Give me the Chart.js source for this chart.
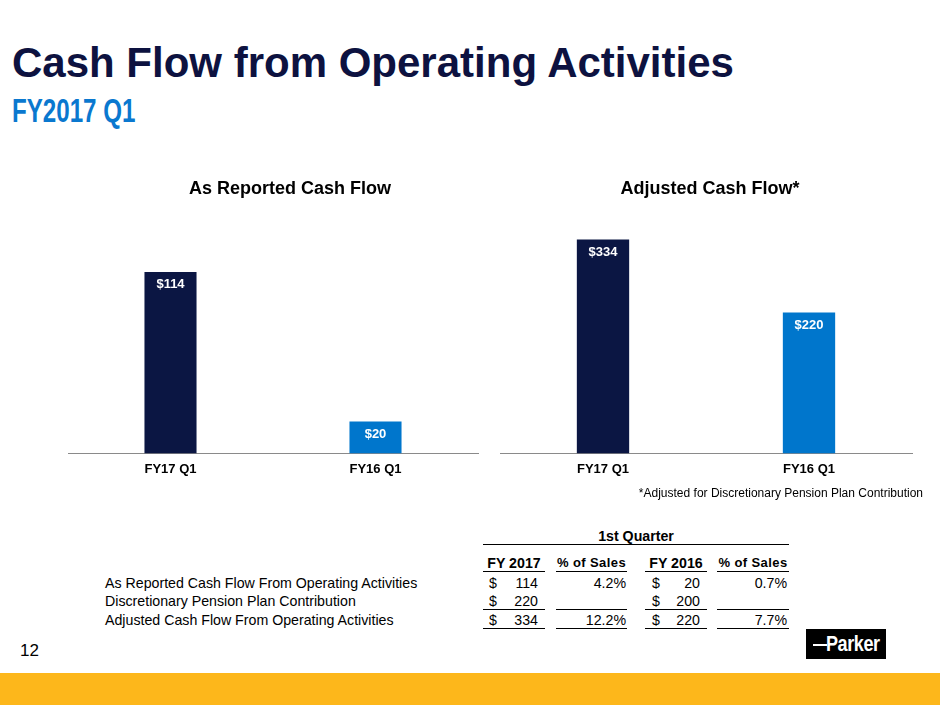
<!DOCTYPE html>
<html>
<head>
<meta charset="utf-8">
<script src="https://cdn.jsdelivr.net/npm/chart.js@4"></script>
<style>
  html, body { margin: 0; padding: 0; background: #fff; }
  body { width: 940px; height: 705px; position: relative; overflow: hidden;
         font-family: "Liberation Sans", Arial, Helvetica, sans-serif; color: #000; }
  .abs { position: absolute; white-space: nowrap; }
  #title { left: 12px; top: 42px; font-size: 42px; line-height: 42px; font-weight: bold; color: #0d1240; }
  #subtitle { left: 12px; top: 93px; font-size: 34px; line-height: 34px; font-weight: bold; color: #0a78cf;
              transform: scaleX(0.71); transform-origin: left top; }
  canvas { position: absolute; }
  #note { right: 17px; top: 485px; font-size: 12px; line-height: 16px; }
  .rule { position: absolute; height: 1px; background: #000; }
  #page { left: 20px; top: 641px; font-size: 17px; line-height: 20px; }
  #logo { position: absolute; left: 806px; top: 629px; width: 80px; height: 30px; background: #000; }
  #logo .dash { position: absolute; left: 7px; top: 15px; width: 14px; height: 2px; background: #fff; }
  #logo .word { position: absolute; left: 20px; top: 3px; font-size: 22px; line-height: 24px; font-weight: bold;
                color: #fff; transform: scaleX(0.82); transform-origin: left top; letter-spacing: -0.5px; }
  #band { position: absolute; left: 0; top: 673px; width: 940px; height: 32px; background: #fdb71b; }
</style>
</head>
<body>
<div id="title" class="abs">Cash Flow from Operating Activities</div>
<div id="subtitle" class="abs">FY2017 Q1</div>

<canvas id="reported" width="444" height="315" style="left:68px;top:170px"></canvas>
<canvas id="adjusted" width="420" height="315" style="left:500px;top:170px"></canvas>

<div id="note" class="abs">*Adjusted for Discretionary Pension Plan Contribution</div>
<div id="table"></div>

<div id="page" class="abs">12</div>
<div id="logo"><div class="dash"></div><div class="word">Parker</div></div>
<div id="band"></div>

<script>
// chart data
const categories = ['FY17 Q1', 'FY16 Q1'];
const reportedCash = [114, 20];
const adjustedCash = [334, 220];
const barColors = ['#0b1643', '#0076cc'];

// table data
const rowLabels = [
  'As Reported Cash Flow From Operating Activities',
  'Discretionary Pension Plan Contribution',
  'Adjusted Cash Flow From Operating Activities'
];
const fy2017 = [114, 220, 334];
const fy2017Pct = ['4.2%', '', '12.2%'];
const fy2016 = [20, 200, 220];
const fy2016Pct = ['0.7%', '', '7.7%'];
const headers = ['FY 2017', '% of Sales', 'FY 2016', '% of Sales'];

const FONT = '"Liberation Sans", Arial, Helvetica, sans-serif';

// white "$value" inside top of each bar
const barLabels = {
  id: 'barLabels',
  afterDatasetsDraw(chart) {
    const ctx = chart.ctx;
    const meta = chart.getDatasetMeta(0);
    const data = chart.data.datasets[0].data;
    ctx.save();
    ctx.font = `bold 13px ${FONT}`;
    ctx.fillStyle = '#fff';
    ctx.textAlign = 'center';
    ctx.textBaseline = 'middle';
    meta.data.forEach((bar, i) => ctx.fillText('$' + data[i], bar.x, bar.y + 13));
    ctx.restore();
  }
};

function makeChart(id, title, values, yMax, rightGap) {
  return new Chart(document.getElementById(id), {
    type: 'bar',
    data: {
      labels: categories,
      datasets: [{
        data: values,
        backgroundColor: barColors,
        borderWidth: 0,
        barPercentage: 0.254,
        categoryPercentage: 1
      }]
    },
    options: {
      responsive: false,
      animation: false,
      events: [],
      layout: { padding: 0 },
      plugins: {
        legend: { display: false },
        tooltip: { enabled: false },
        title: {
          display: true,
          text: title,
          color: '#000',
          font: { family: FONT, size: 18, weight: 'bold' },
          padding: { top: 8, bottom: 15 }
        }
      },
      scales: {
        x: {
          grid: { display: false, drawTicks: false },
          border: { display: true, color: '#8a8a8a', width: 1 },
          ticks: { color: '#000', padding: 8, font: { family: FONT, size: 13, weight: 'bold' } }
        },
        y: {
          position: 'right',
          min: 0,
          max: yMax,
          grid: { display: false, drawTicks: false },
          border: { display: false },
          ticks: { display: false },
          afterFit: s => { s.width = rightGap; }
        }
      }
    },
    plugins: [barLabels]
  });
}

makeChart('reported', 'As Reported Cash Flow', reportedCash, 150, 34);
makeChart('adjusted', 'Adjusted Cash Flow*', adjustedCash, 373, 8);

// table
const table = document.getElementById('table');
function text(str, x, cy, opts = {}) {
  const el = document.createElement('div');
  el.className = 'abs';
  const size = opts.size || 14.2;
  el.style.fontSize = size + 'px';
  el.style.lineHeight = '20px';
  el.style.top = (cy - 10) + 'px';
  if (opts.bold) el.style.fontWeight = 'bold';
  if (opts.spacing) el.style.letterSpacing = opts.spacing + 'px';
  if (opts.align === 'right') el.style.right = (940 - x) + 'px';
  else if (opts.align === 'center') { el.style.left = x + 'px'; el.style.transform = 'translateX(-50%)'; }
  else el.style.left = x + 'px';
  el.textContent = str;
  table.appendChild(el);
}
function rule(x1, x2, y) {
  const el = document.createElement('div');
  el.className = 'rule';
  el.style.left = x1 + 'px';
  el.style.width = (x2 - x1) + 'px';
  el.style.top = y + 'px';
  table.appendChild(el);
}

const cols = [[483, 545], [556, 627], [645, 707], [717, 789]];
text('1st Quarter', 636, 536, { bold: true, align: 'center' });
rule(483, 789, 544);
headers.forEach((h, i) => {
  const mid = (cols[i][0] + cols[i][1]) / 2;
  if (i % 2) text(h, mid, 563, { bold: true, size: 13, spacing: 0.4, align: 'center' });
  else text(h, mid, 563, { bold: true, size: 14.2, align: 'center' });
  rule(cols[i][0], cols[i][1], 571);
});
const rowY = [582.5, 601, 619.5];
rowLabels.forEach((lab, r) => {
  const y = rowY[r];
  text(lab, 105, y);
  text('$', 489, y);
  text(String(fy2017[r]), 538, y, { align: 'right' });
  text(fy2017Pct[r], 626, y, { align: 'right' });
  text('$', 652, y);
  text(String(fy2016[r]), 700, y, { align: 'right' });
  text(fy2016Pct[r], 787, y, { align: 'right' });
});
cols.forEach(c => { rule(c[0], c[1], 609); rule(c[0], c[1], 628); });
</script>
</body>
</html>
